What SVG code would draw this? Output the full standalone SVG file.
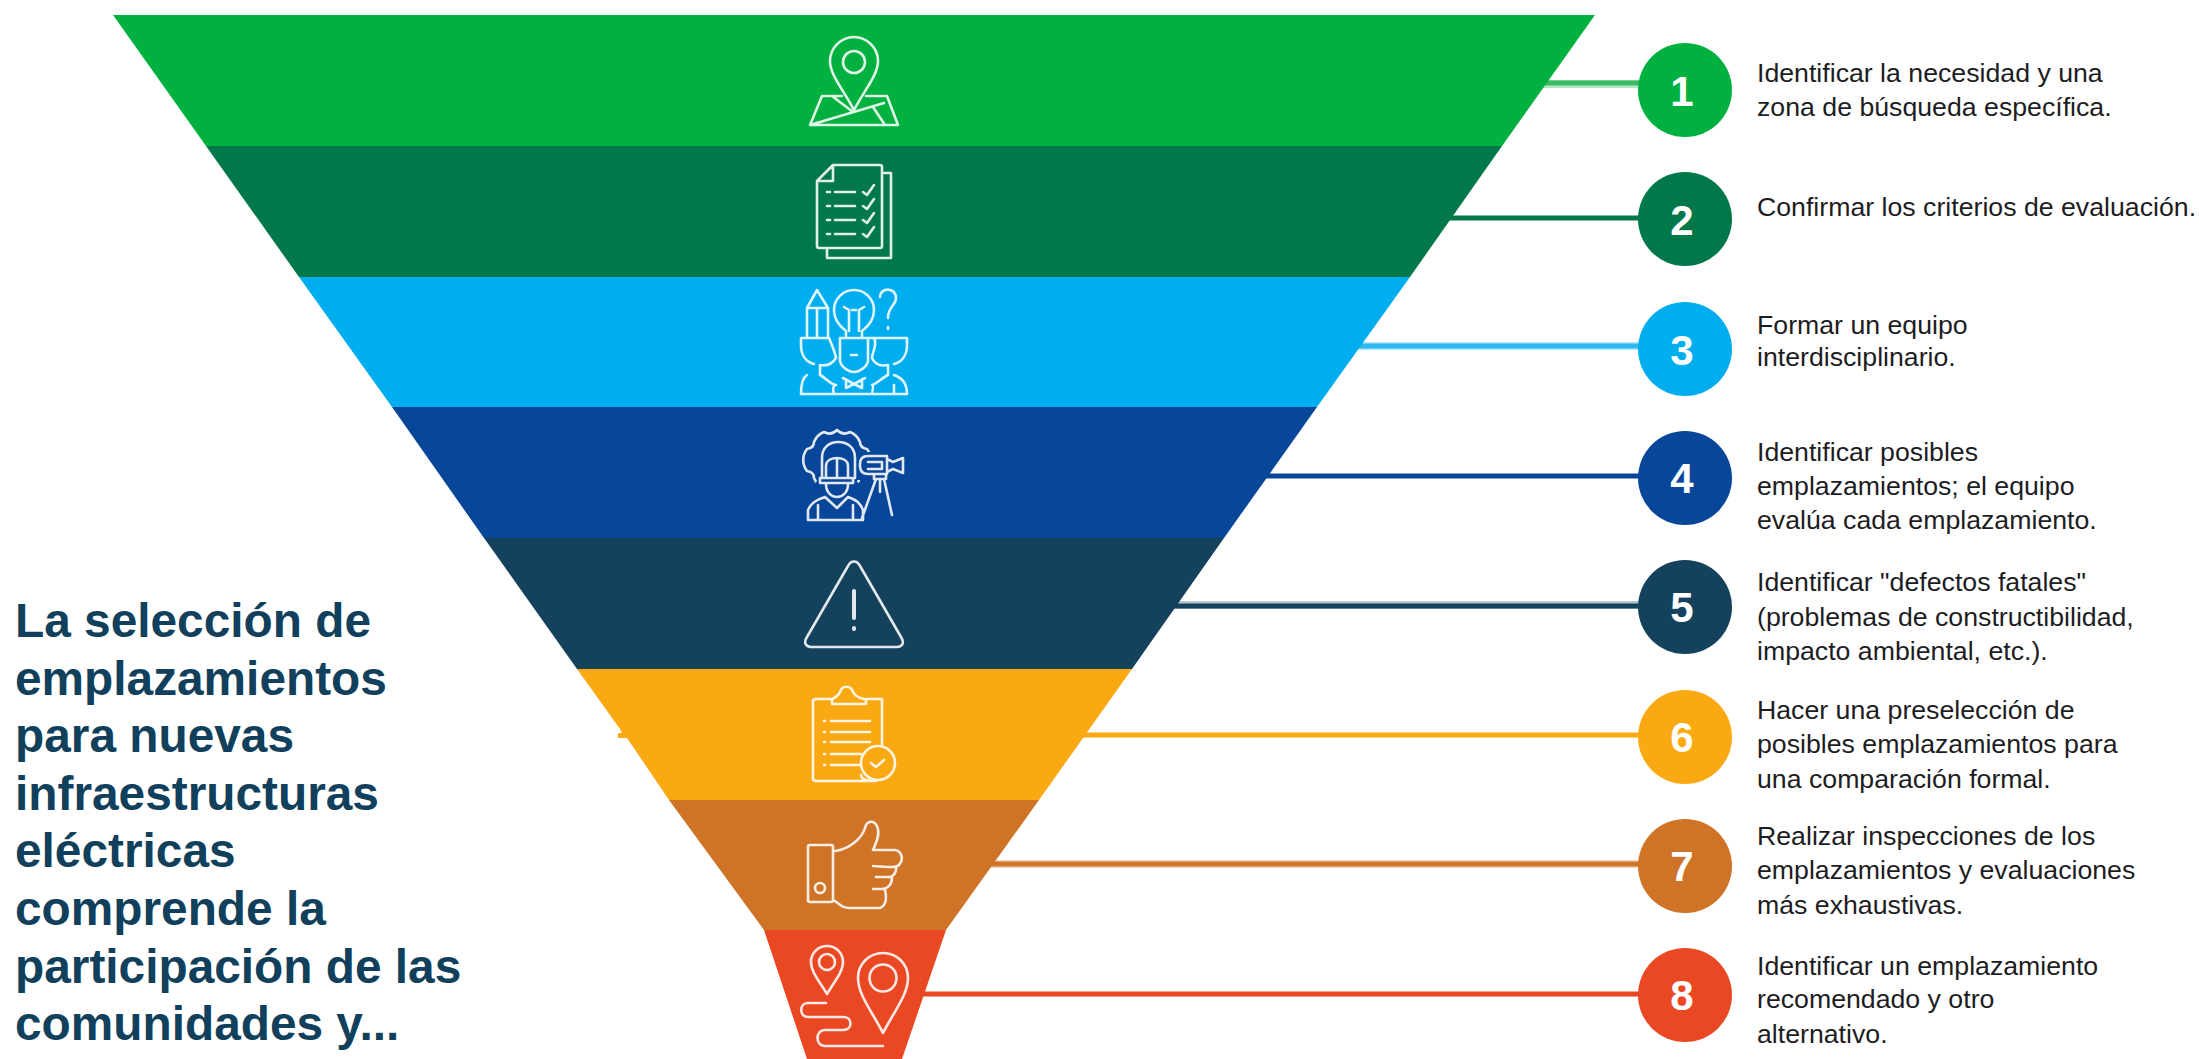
<svg xmlns="http://www.w3.org/2000/svg" width="2199" height="1059" viewBox="0 0 2199 1059">
<style>
.i{fill:none;stroke:#fff;stroke-width:2.6;stroke-linecap:round;stroke-linejoin:round;opacity:.88}
.c{fill:none;stroke-width:5}
.p{fill:none;stroke-width:8;opacity:.3}
.n{font:bold 42px "Liberation Sans",Arial,sans-serif;fill:#fff;text-anchor:middle}
.t{font:26.700px "Liberation Sans",Arial,sans-serif;fill:#1d1d1f}
.h{font:bold 47.800px "Liberation Sans",Arial,sans-serif;fill:#11405c}
</style>
<rect width="2199" height="1059" fill="#fff"/>
<g id="connectors">
<path class="p" stroke="#00b140" d="M1540 84H1645"/><path class="c" stroke="#3dbb63" d="M1540 83H1645"/>
<path class="c" stroke="#00784a" d="M1440 218H1645"/>
<path class="p" stroke="#00aeef" d="M1350 346H1645"/><path class="c" stroke="#2fb7f0" d="M1350 346H1645"/>
<path class="c" stroke="#08469a" d="M1250 476H1645"/>
<path class="p" stroke="#14425c" d="M1165 605H1645"/><path class="c" stroke="#14425c" d="M1165 606H1645"/>
<path class="c" stroke="#fba913" d="M1075 735H1645"/>
<path class="p" stroke="#cf7327" d="M985 864H1645"/><path class="c" stroke="#cf7327" d="M985 864H1645"/>
<path class="c" stroke="#ea4823" d="M915 994H1645"/>
</g>
<g id="band-1"><path fill="#00b140" d="M113 15H1595L1502 146H206Z"/>
<g class="i"><path d="M854 37c-13 0-24 11-24 24 0 14 13 28 24 49 11-21 24-35 24-49 0-13-11-24-24-24Z"/><circle cx="854" cy="62" r="11"/><path d="M842 96H822L810 125H898L887 96H866M810 125L884 103M832 96L853 112M873 107L885 125"/></g></g>
<g id="band-2"><path fill="#00784a" d="M206 146H1502L1410 277H299Z"/>
<g class="i"><path d="M833 165H880q2 0 2 2V246q0 2-2 2H819q-2 0-2-2V181ZM833 165V181H817M882 173H891V258H827V248M827 192H830M835 192H855M827 206H830M835 206H855M827 220H830M835 220H855M827 234H830M835 234H855M863 192l4 3 7-10M863 206l4 3 7-10M863 220l4 3 7-10M863 234l4 3 7-10"/></g></g>
<g id="band-3"><path fill="#00aeef" d="M299 277H1410L1317 407H392Z"/>
<g class="i"><path d="M807 338V308L817 290 828 308V338M807 308H828M817 308V338M846 331C838 325 834 318 834 310 834 299 843 290 854 290 865 290 874 299 874 310 874 318 870 325 862 331V338H846ZM849 331V310L844 307M859 331V310L864 307M852 310H856M880 297C880 287 896 287 896 298 896 306 888 306 888 318M888 327V329M801 338H829C832 345 835 352 836 358 831 366 825 366 820 365V375M801 338V345C801 355 806 362 814 364M807 375C802 378 801 385 801 394M840 338H868V360C868 366 860 372 854 372 848 372 840 366 840 360ZM851 355H857M868 338H907V345C907 355 902 362 894 364M874 338C878 345 872 352 872 358 876 366 882 366 888 365V375M894 375C903 378 907 385 907 394M801 394H907M820 375C826 378 830 384 836 385 832 385 833 394 835 394M888 375C882 378 876 384 872 385 874 385 872 394 871 394M843 378L854 384 865 378M846 380V388L854 384 862 388V380M894 385V394"/></g></g>
<g id="band-4"><path fill="#08469a" d="M392 407H1317L1224 538H484Z"/>
<g class="i"><path d="M867 449A18 18 0 0 1 867 471Q860 472 860 478A18 18 0 0 1 850 488Q843 484 837 490Q829 484 824 488A18 18 0 0 1 814 478Q814 472 807 471A18 18 0 0 1 807 449Q814 448 814 442A18 18 0 0 1 824 432Q831 436 837 430Q843 436 850 432A18 18 0 0 1 860 442Q860 448 867 449Z"/>
<path fill="#08469a" stroke="none" d="M800 520V500L818 480H856L870 500V520ZM856 452H905V480H856Z"/>
<path d="M822 478V458C822 447 830 442 838 442 847 442 855 447 855 458V478M826 478V466C826 460 832 458 837 458 842 458 848 460 848 466V478M820 478H853V483H820ZM837 458V478M826 484C826 492 831 497 837 497 843 497 848 492 848 484M808 520V510C811 503 816 500 825 497L837 508 848 497C857 500 860 503 863 510V520ZM818 505V520M853 505V520M860 464Q860 456 868 456H887V474H868Q860 474 860 466ZM887 459L893 462 903 458V473L893 469 887 472M868 462H882V469H868M874 474V479H886V474M876 479L862 518M884 479L892 515M880 479V492"/></g></g>
<g id="band-5"><path fill="#14425c" d="M484 538H1224L1132 669H577Z"/>
<g class="i"><path d="M848 566 807 637C803 643 806 647 812 647H897C902 647 905 643 901 637L860 566C857 560 851 560 848 566Z"/><path stroke-width="4" d="M854 591V618M854 628V629"/></g></g>
<g id="band-6"><path fill="#fba913" d="M577 669H1132L1039 800H669L627 738H618V733H622L620 729Z"/>
<g class="i"><path d="M832 699H816Q813 699 813 702V778Q813 781 816 781H876Q861 781 861 775M882 699H866V704H832V699C836 697 839 695 840 692 842 685 851 685 853 692 855 696 859 698 864 699M882 699V745M824 721H825M831 721H870M824 732H825M831 732H870M824 742H825M831 742H870M824 754H825M831 754H861M824 765H825M831 765H861"/><circle cx="878" cy="763" r="17"/><path d="M871 763l5 4 8-7"/></g></g>
<g id="band-7"><path fill="#cf7327" d="M669 800H1039L946 930H764Z"/>
<g class="i"><rect x="808" y="845" width="25" height="57" rx="2"/><circle cx="820" cy="888" r="5"/><path d="M835 851C850 849 862 838 865 828 867 820 874 820 877 826 881 835 875 845 873 850H895C902 851 904 860 899 865 896 868 890 867 873 866M896 867C897 873 892 878 888 877H876M892 878C892 884 888 889 882 889H873M885 890C887 898 886 906 880 908H850C843 908 840 905 835 901"/></g></g>
<g id="band-8"><path fill="#ea4823" d="M764 930H946L902 1059H807Z"/>
<g class="i"><path d="M827 946C818 946 811 953 811 962 811 972 820 982 827 994 834 982 843 972 843 962 843 953 836 946 827 946Z"/><circle cx="827" cy="962" r="8"/><path d="M883 953C869 953 858 964 858 978 858 995 873 1013 883 1033 893 1013 908 995 908 978 908 964 897 953 883 953Z"/><circle cx="883" cy="978" r="13.500"/><path d="M826 1003H808C799 1003 799 1017 808 1017H843C853 1017 853 1030 843 1030H825C815 1030 815 1046 825 1046H883"/></g></g>
<g id="step-1"><circle cx="1685" cy="90" r="47" fill="#00b140"/><text class="n" x="1682" y="106">1</text><text class="t"><tspan x="1757" y="82">Identificar la necesidad y una</tspan><tspan x="1757" y="116">zona de búsqueda específica.</tspan></text></g>
<g id="step-2"><circle cx="1685" cy="219" r="47" fill="#00784a"/><text class="n" x="1682" y="235">2</text><text class="t" x="1757" y="216">Confirmar los criterios de evaluación.</text></g>
<g id="step-3"><circle cx="1685" cy="349" r="47" fill="#00aeef"/><text class="n" x="1682" y="365">3</text><text class="t"><tspan x="1757" y="334">Formar un equipo</tspan><tspan x="1757" y="366">interdisciplinario.</tspan></text></g>
<g id="step-4"><circle cx="1685" cy="478" r="47" fill="#08469a"/><text class="n" x="1682" y="493">4</text><text class="t"><tspan x="1757" y="461">Identificar posibles</tspan><tspan x="1757" y="495">emplazamientos; el equipo</tspan><tspan x="1757" y="529">evalúa cada emplazamiento.</tspan></text></g>
<g id="step-5"><circle cx="1685" cy="607" r="47" fill="#14425c"/><text class="n" x="1682" y="622">5</text><text class="t"><tspan x="1757" y="591">Identificar "defectos fatales"</tspan><tspan x="1757" y="626">(problemas de constructibilidad,</tspan><tspan x="1757" y="660">impacto ambiental, etc.).</tspan></text></g>
<g id="step-6"><circle cx="1685" cy="737" r="47" fill="#fba913"/><text class="n" x="1682" y="752">6</text><text class="t"><tspan x="1757" y="719">Hacer una preselección de</tspan><tspan x="1757" y="753">posibles emplazamientos para</tspan><tspan x="1757" y="788">una comparación formal.</tspan></text></g>
<g id="step-7"><circle cx="1685" cy="866" r="47" fill="#cf7327"/><text class="n" x="1682" y="881">7</text><text class="t"><tspan x="1757" y="845">Realizar inspecciones de los</tspan><tspan x="1757" y="879">emplazamientos y evaluaciones</tspan><tspan x="1757" y="914">más exhaustivas.</tspan></text></g>
<g id="step-8"><circle cx="1685" cy="995" r="47" fill="#ea4823"/><text class="n" x="1682" y="1010">8</text><text class="t"><tspan x="1757" y="975">Identificar un emplazamiento</tspan><tspan x="1757" y="1008">recomendado y otro</tspan><tspan x="1757" y="1043">alternativo.</tspan></text></g>
<g id="title"><text class="h"><tspan x="15" y="637">La selección de</tspan><tspan x="15" y="695">emplazamientos</tspan><tspan x="15" y="752">para nuevas</tspan><tspan x="15" y="810">infraestructuras</tspan><tspan x="15" y="867">eléctricas</tspan><tspan x="15" y="925">comprende la</tspan><tspan x="15" y="983">participación de las</tspan><tspan x="15" y="1040">comunidades y...</tspan></text></g>
</svg>
